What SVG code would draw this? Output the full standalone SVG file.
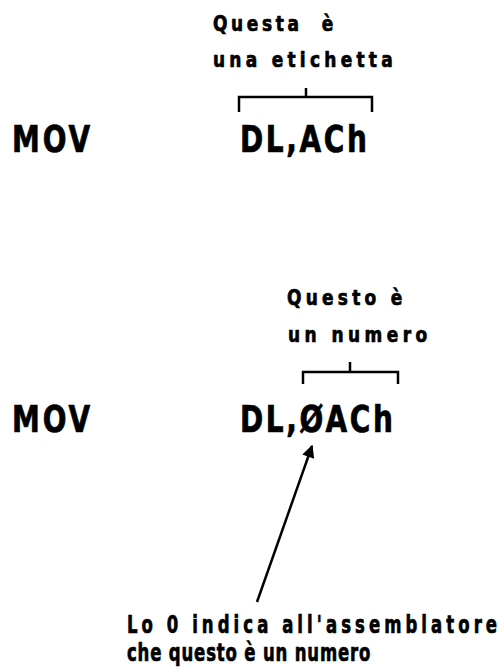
<svg xmlns="http://www.w3.org/2000/svg" width="499" height="668" viewBox="0 0 499 668">
<style>
text{font-family:"DejaVu Sans Condensed","DejaVu Sans","Liberation Sans",sans-serif;font-weight:bold;fill:#000;stroke:#000;stroke-width:0.7}
.big{font-size:37px}
.lbl{font-size:22px}
.note{font-size:25.5px}
.br{fill:none;stroke:#000;stroke-width:2.5}
</style>
<defs>
<marker id="ah" viewBox="0 0 10 10" refX="9" refY="5" markerWidth="5.5" markerHeight="5" orient="auto" markerUnits="strokeWidth">
<path d="M0,0 L10,5 L0,10 z" fill="#000"/>
</marker>
</defs>
<rect width="499" height="668" fill="#fff"/>
<g id="instr1">
<text class="big" transform="translate(12,152) scale(0.84,1)" textLength="93" lengthAdjust="spacing">MOV</text>
<text class="big" transform="translate(240,152) scale(0.84,1)" textLength="151" lengthAdjust="spacing">DL,ACh</text>
</g>
<g id="label1">
<text class="lbl" transform="translate(213,31) scale(0.86,1)" textLength="140" lengthAdjust="spacing" xml:space="preserve">Questa  è</text>
<text class="lbl" transform="translate(213,67) scale(0.86,1)" textLength="209" lengthAdjust="spacing">una etichetta</text>
<path class="br" d="M239,112 V97 H372 V112 M306,97 V88"/>
</g>
<g id="instr2">
<text class="big" transform="translate(12,432) scale(0.84,1)" textLength="93" lengthAdjust="spacing">MOV</text>
<text class="big" transform="translate(240,432) scale(0.84,1)" textLength="182" lengthAdjust="spacing">DL,ØACh</text>
</g>
<g id="label2">
<text class="lbl" transform="translate(287,305) scale(0.86,1)" textLength="134" lengthAdjust="spacing">Questo è</text>
<text class="lbl" transform="translate(288,342) scale(0.86,1)" textLength="162" lengthAdjust="spacing">un numero</text>
<path class="br" d="M303,384 V372 H398 V384 M350,372 V362"/>
</g>
<g id="note">
<text class="note" transform="translate(127,633) scale(0.72,1)" textLength="514" lengthAdjust="spacing">Lo 0 indica all'assemblatore</text>
<text class="note" transform="translate(127,661) scale(0.72,1)" textLength="338" lengthAdjust="spacing">che questo è un numero</text>
</g>
<g id="connectors">
<line x1="257" y1="602" x2="312" y2="446" stroke="#000" stroke-width="2.5" marker-end="url(#ah)"/>
</g>
</svg>
